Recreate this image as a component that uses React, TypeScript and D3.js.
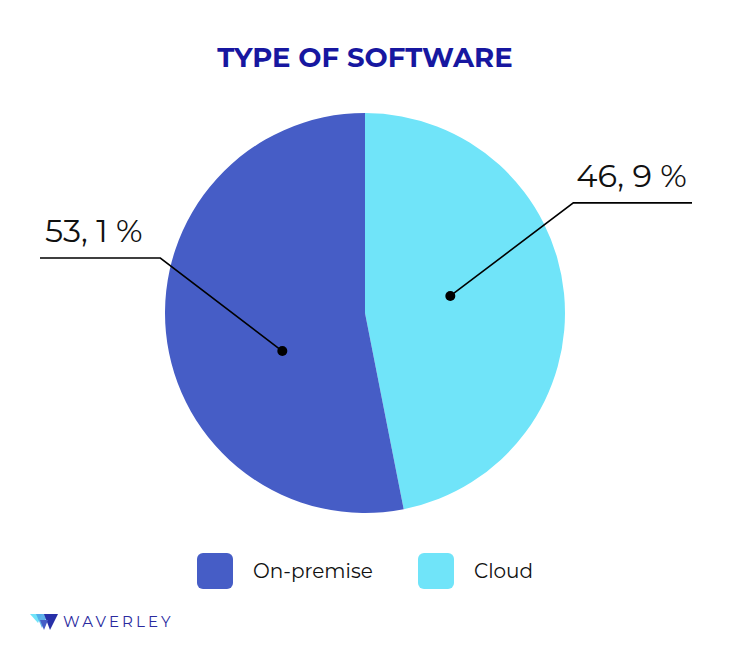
import React from "react";
import * as d3 from "d3";

const categories = ["On-premise", "Cloud"];
const values = [53.1, 46.9];
const valueLabels = ["53, 1 %", "46, 9 %"];
const colors = ["#465DC6", "#70E4F9"];

const W = 730;
const H = 662;
const cx = 365;
const cy = 313;
const R = 200;

// drawing order: Cloud first clockwise from 12 o'clock
const order = [1, 0];
// fraction along each slice where the callout dot sits, and its radius
const dotFrac = [0.4, 0.466];
const dotR = [91, 87];

export default function App() {
  const pie = d3
    .pie<number>()
    .sort(null)
    .value((i) => values[i]);
  const arcs = pie(order);
  const arc = d3.arc<d3.PieArcDatum<number>>().innerRadius(0).outerRadius(R);

  const callouts = arcs.map((a) => {
    const i = a.data;
    const ang = a.startAngle + (a.endAngle - a.startAngle) * dotFrac[i];
    const x = cx + dotR[i] * Math.sin(ang);
    const y = cy - dotR[i] * Math.cos(ang);
    const right = Math.sin(ang) > 0;
    const ex = x + (right ? 123 : -122);
    const ey = y - 93;
    const endX = right ? 692 : 40;
    return { i, x, y, ex, ey, endX, right };
  });

  const font = "Montserrat, 'Open Sans', 'Noto Sans', sans-serif";

  return (
    <svg width={W} height={H} style={{ position: "absolute", left: 0, top: 0 }}>
      <rect width={W} height={H} fill="#ffffff" />
      <text
        x={cx}
        y={67}
        textAnchor="middle"
        fontFamily={font}
        fontWeight={700}
        fontSize={27.5}
        fill="#1717A0"
      >
        TYPE OF SOFTWARE
      </text>
      <g transform={`translate(${cx},${cy})`}>
        {arcs.map((a) => (
          <path key={a.data} d={arc(a) || ""} fill={colors[a.data]} />
        ))}
      </g>
      {callouts.map((c) => (
        <g key={c.i}>
          <polyline
            points={`${c.x},${c.y} ${c.ex},${c.ey} ${c.endX},${c.ey}`}
            fill="none"
            stroke="#000"
            strokeWidth={1.6}
          />
          <circle cx={c.x} cy={c.y} r={5} fill="#000" />
          <text
            x={c.right ? c.ex + 3 : c.endX + 5}
            y={c.ey - 16}
            fontFamily={font}
            fontSize={32}
            fill="#111"
          >
            {valueLabels[c.i]}
          </text>
        </g>
      ))}
      {categories.map((cat, i) => {
        const x0 = 197 + i * 221;
        return (
          <g key={cat}>
            <rect x={x0} y={553} width={36} height={36} rx={6} fill={colors[i]} />
            <text x={x0 + 56} y={578} fontFamily={font} fontSize={20} fill="#111">
              {cat}
            </text>
          </g>
        );
      })}
      <g>
        <polygon points="30,614 42,614 38,623" fill="#70E4F9" />
        <polygon points="36,614 48,614 42,628" fill="#4FA8E8" opacity={0.9} />
        <polygon points="44,614 58,614 50,630" fill="#2830A8" />
        <polygon points="40,620 48,620 44,630" fill="#465DC6" />
        <text
          x={63}
          y={627}
          fontFamily={font}
          fontSize={15}
          letterSpacing={3.1}
          fill="#2A2AA0"
        >
          WAVERLEY
        </text>
      </g>
    </svg>
  );
}
